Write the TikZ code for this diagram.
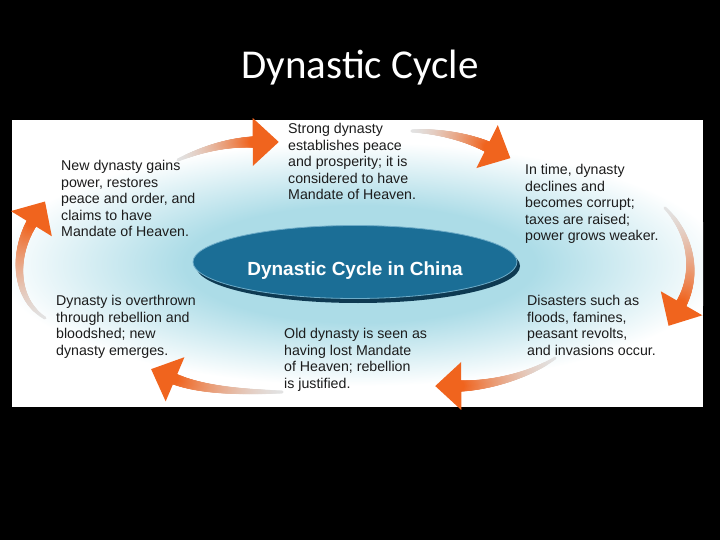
\documentclass[tikz,border=0pt]{standalone}
\usepackage{fontspec}
\setmainfont{Liberation Sans}
\newfontfamily\titlefont{Carlito}
\usepackage{tikz}
\usetikzlibrary{ shapes.geometric }
\usetikzlibrary{decorations.markings}

\definecolor{panelglow}{RGB}{172,220,231}
\definecolor{cycleteal}{RGB}{27,110,150}
\definecolor{cycleshadow}{RGB}{14,58,82}
\definecolor{cyclerim}{RGB}{110,172,200}
\definecolor{arroworange}{RGB}{240,100,30}
\definecolor{tailgrey}{RGB}{226,226,226}
\definecolor{blurbtext}{RGB}{28,28,28}

\pgfdeclareradialshading{panelshade}{\pgfpoint{0bp}{0bp}}{color(0bp)=(panelglow); color(12bp)=(panelglow); color(25bp)=(white); color(50bp)=(white)}

\tikzset{
  blurb/.style={anchor=north west, align=left, inner sep=0pt, text=blurbtext,
    font=\fontsize{14.2}{16.6}\selectfont},
  cyclearrow/.style={
    decoration={markings,
      mark=between positions 0 and 0.999 step 0.005 with {
        \pgfmathsetmacro{\f}{\pgfkeysvalueof{/pgf/decoration/mark info/sequence number}/200}
        \pgfmathtruncatemacro{\p}{100*\f^1.5}
        \fill[arroworange!\p!tailgrey] (0,0) circle ({1.5+4.2*\f});
      },
      mark=at position 1 with {
        \fill[arroworange] (23,0) -- (-3,24) -- (-3,-24) -- cycle;
      }},
    postaction=decorate}
}

\begin{document}
\begin{tikzpicture}[x=1pt, y=-1pt]
    \useasboundingbox (0,0) rectangle (720,540);
    \fill[black] (0,0) rectangle (720,540);
    \node[text=white, anchor=base, inner sep=0pt,
        font=\titlefont\fontsize{41}{41}\selectfont] (title) at (360,79) {Dynastic Cycle};

    % panel and glow
    \fill[white] (12,120) rectangle (703,407);
    \begin{scope}
        \clip (12,120) rectangle (703,407);
        \shade[shading=panelshade] (360,264) ellipse (365 and 122);
    \end{scope}

    % centre oval
    \fill[cycleshadow] (358,266) ellipse (162 and 37);
    \node[ellipse, fill=cycleteal, draw=cyclerim, line width=0.8pt,
        minimum width=324pt, minimum height=73pt, inner sep=0pt] (hub) at (355,262) {};
    \node[text=white, anchor=base, inner sep=0pt,
        font=\bfseries\fontsize{19}{19}\selectfont] (hubtext) at (355,275) {Dynastic Cycle in China};

    % arrows
    \coordinate (a1s) at (178,160);
    \coordinate (a1e) at (256,142);
    \coordinate (a2s) at (412,131);
    \coordinate (a2e) at (490,148);
    \coordinate (a3s) at (665,208);
    \coordinate (a3e) at (680,306);
    \coordinate (a4s) at (555,358);
    \coordinate (a4e) at (458,386);
    \coordinate (a5s) at (282,392);
    \coordinate (a5e) at (172,378);
    \coordinate (a6s) at (45,318);
    \coordinate (a6e) at (33,221);
    \path[cyclearrow] (a1s) .. controls (205,148) and (230,142) .. (a1e);
    \path[cyclearrow] (a2s) .. controls (440,131) and (470,138) .. (a2e);
    \path[cyclearrow] (a3s) .. controls (692,235) and (698,275) .. (a3e);
    \path[cyclearrow] (a4s) .. controls (530,375) and (490,386) .. (a4e);
    \path[cyclearrow] (a5s) .. controls (240,392) and (200,390) .. (a5e);
    \path[cyclearrow] (a6s) .. controls (15,300) and (12,255) .. (a6e);

    % stages
    \node[blurb] (strong) at (288,123) {Strong dynasty\\establishes peace\\and prosperity; it is\\considered to have\\Mandate of Heaven.};
    \node[blurb] (decline) at (525,164) {In time, dynasty\\declines and\\becomes corrupt;\\taxes are raised;\\power grows weaker.};
    \node[blurb] (disaster) at (527,295) {Disasters such as\\floods, famines,\\peasant revolts,\\and invasions occur.};
    \node[blurb] (lost) at (284,328) {Old dynasty is seen as\\having lost Mandate\\of Heaven; rebellion\\is justified.};
    \node[blurb] (overthrow) at (56,295) {Dynasty is overthrown\\through rebellion and\\bloodshed; new\\dynasty emerges.};
    \node[blurb] (newdyn) at (61,160) {New dynasty gains\\power, restores\\peace and order, and\\claims to have\\Mandate of Heaven.};
\end{tikzpicture}
\end{document}
